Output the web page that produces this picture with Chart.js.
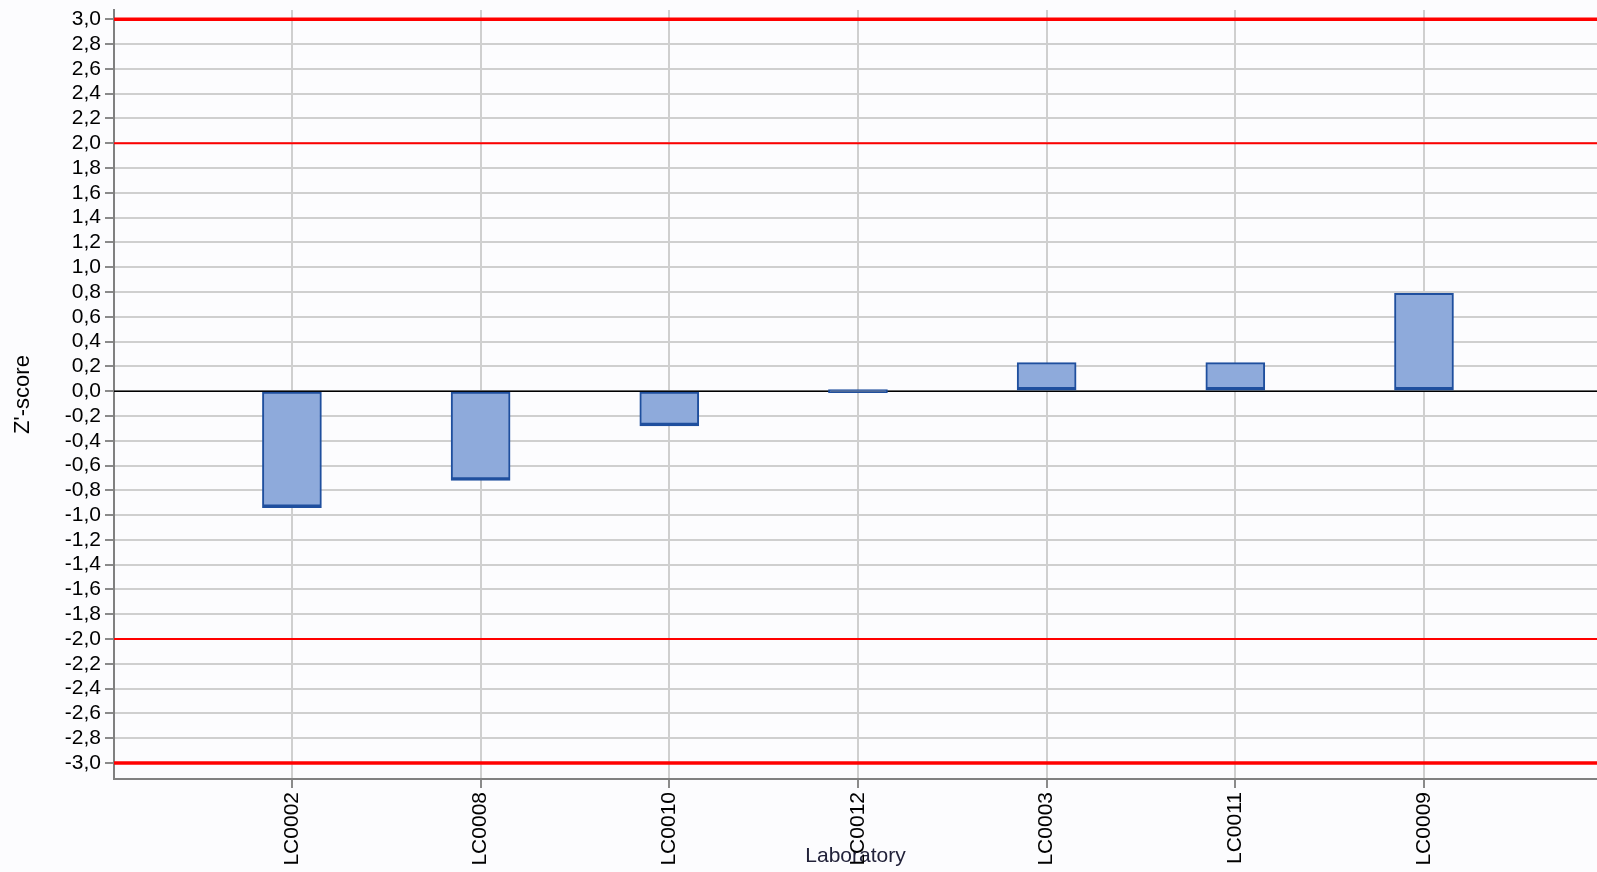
<!DOCTYPE html>
<html>
<head>
<meta charset="utf-8">
<script src="https://cdn.jsdelivr.net/npm/chart.js@4/dist/chart.umd.min.js"></script>
<style>
  html, body { margin: 0; padding: 0; background: #fcfcfe; }
  canvas { display: block; }
</style>
</head>
<body>
<canvas id="zChart" width="1597" height="872"></canvas>
<script>
const labs = ["LC0002", "LC0008", "LC0010", "LC0012", "LC0003", "LC0011", "LC0009"];
const zScores = [-0.94, -0.72, -0.28, 0, 0.23, 0.23, 0.79];
const limits = [3, 2, -2, -3];
const yTicks = [
  -3.0, -2.8, -2.6, -2.4, -2.2, -2.0, -1.8, -1.6, -1.4, -1.2, -1.0,
  -0.8, -0.6, -0.4, -0.2, 0.0, 0.2, 0.4, 0.6, 0.8, 1.0,
  1.2, 1.4, 1.6, 1.8, 2.0, 2.2, 2.4, 2.6, 2.8, 3.0
];

const xMin = 0.057;
const xMax = 7.917;
const font = { family: "'Liberation Sans', Arial, sans-serif", size: 21 };

const barPoints = zScores.map((v, i) => ({ x: i + 1, y: v }));

const limitSets = limits.map((v) => ({
  type: "line",
  data: [{ x: xMin, y: v }, { x: xMax, y: v }],
  borderColor: "#ff0000",
  borderWidth: Math.abs(v) === 3 ? 3.5 : 2,
  pointRadius: 0,
  order: 1
}));

const zeroSet = {
  type: "line",
  data: [{ x: xMin, y: 0 }, { x: xMax, y: 0 }],
  borderColor: "#000000",
  borderWidth: 1.5,
  pointRadius: 0,
  order: 2
};

new Chart(document.getElementById("zChart"), {
  type: "bar",
  data: {
    datasets: [
      {
        data: barPoints,
        backgroundColor: "#8eaadb",
        borderColor: "#1f4f9e",
        borderWidth: { top: 2, left: 2, right: 2, bottom: 3.5 },
        borderSkipped: false,
        barThickness: 59,
        minBarLength: 3,
        order: 0
      },
      zeroSet,
      ...limitSets
    ]
  },
  options: {
    responsive: false,
    animation: false,
    layout: { padding: { top: 10, right: 0, left: 0, bottom: 0 } },
    plugins: { legend: { display: false }, tooltip: { enabled: false } },
    scales: {
      x: {
        type: "linear",
        min: xMin,
        max: xMax,
        offset: false,
        afterBuildTicks: (s) => { s.ticks = labs.map((l, i) => ({ value: i + 1 })); },
        afterFit: (s) => { s.height = 93; s.paddingLeft = 0; s.paddingRight = 0; },
        ticks: {
          autoSkip: false,
          minRotation: 90,
          maxRotation: 90,
          padding: 4,
          color: "#000",
          font: font,
          callback: (v) => labs[Math.round(v) - 1]
        },
        grid: { offset: false, color: "#cfcfcf", lineWidth: 2, tickColor: "#8a8a8a", tickLength: 9 },
        border: { color: "#808080", width: 2 },
        title: {
          display: true,
          text: "Laboratory",
          color: "#22223a",
          font: font,
          padding: { top: 0, bottom: 3 }
        }
      },
      y: {
        min: -3.129,
        max: 3.075,
        afterBuildTicks: (s) => { s.ticks = yTicks.map((v) => ({ value: v })); },
        afterFit: (s) => { s.width = 114; s.paddingTop = 0; s.paddingBottom = 0; },
        ticks: {
          autoSkip: false,
          padding: 4,
          color: "#000",
          font: font,
          callback: (v) => (Math.abs(v) < 1e-9 ? 0 : v).toFixed(1).replace(".", ",")
        },
        grid: { color: "#cfcfcf", lineWidth: 2, tickColor: "#8a8a8a", tickLength: 9 },
        border: { color: "#808080", width: 2 },
        title: {
          display: true,
          text: "Z'-score",
          color: "#000",
          font: { family: font.family, size: 22 },
          padding: { top: 10, bottom: 0 }
        }
      }
    }
  }
});
</script>
</body>
</html>
